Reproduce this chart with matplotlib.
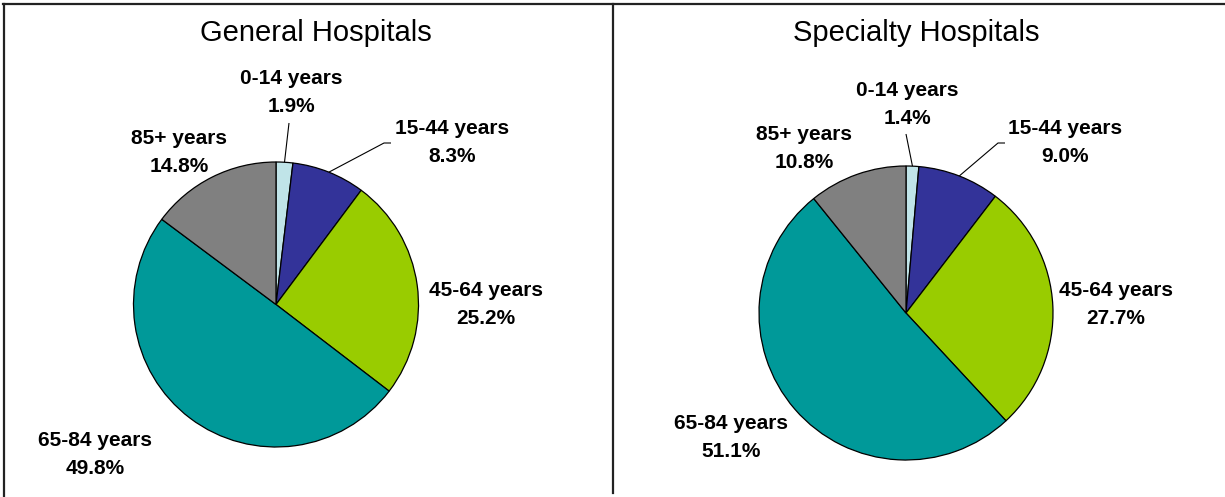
import matplotlib
matplotlib.use('Agg')
import matplotlib.pyplot as plt
from matplotlib.lines import Line2D
import numpy as np

# ---- data ----
categories = ['0-14 years', '15-44 years', '45-64 years', '65-84 years', '85+ years']
general_values = [1.9, 8.3, 25.2, 49.8, 14.8]
specialty_values = [1.4, 9.0, 27.7, 51.1, 10.8]
titles = ['General Hospitals', 'Specialty Hospitals']
colors = ['#C0E4E8', '#333399', '#99CC00', '#009999', '#808080']

W, H = 1225, 497
plt.rcParams['font.family'] = ['Liberation Sans', 'DejaVu Sans']
fig = plt.figure(figsize=(W / 100, H / 100), dpi=100)


def fx(px):
    return px / W


def fy(py):
    return 1 - py / H


def add_pie(cx, cy, r, values, title, title_xy, label_px, leaders):
    ax = fig.add_axes([fx(cx - r), fy(cy + r), 2 * r / W, 2 * r / H])
    ax.pie(values, colors=colors, startangle=90, counterclock=False, radius=1,
           wedgeprops=dict(edgecolor='black', linewidth=0.9))
    ax.set_xlim(-1, 1)
    ax.set_ylim(-1, 1)
    ax.axis('off')

    def d(px, py):
        return (px - cx) / r, (cy - py) / r

    total = sum(values)
    cum = 0.0
    mids = []
    for v in values:
        mids.append(np.deg2rad(90 - 360 * (cum + v / 2) / total))
        cum += v

    for cat, val, (lx, ly) in zip(categories, values, label_px):
        x, y = d(lx, ly)
        ax.text(x, y, f"{cat}\n{val:.1f}%", ha='center', va='center',
                fontsize=15, fontweight='bold', linespacing=1.6,
                clip_on=False, color='black')

    for idx, pts in leaders.items():
        a = mids[idx]
        xs = [np.cos(a)] + [d(px, py)[0] for px, py in pts]
        ys = [np.sin(a)] + [d(px, py)[1] for px, py in pts]
        ax.plot(xs, ys, color='black', lw=0.8, clip_on=False, solid_capstyle='butt')

    fig.text(fx(title_xy[0]), fy(title_xy[1]), title, ha='center', va='center',
             fontsize=21)


add_pie(276, 304.5, 142.5, general_values, titles[0], (316, 33),
        [(291, 93), (452, 143), (486, 304), (95, 454), (179, 153)],
        {0: [(289, 123)], 1: [(384, 143), (391, 143)]})

add_pie(906, 313, 147, specialty_values, titles[1], (916, 33),
        [(907, 105), (1065, 143), (1116, 304), (731, 438), (804, 148)],
        {0: [(906, 134)], 1: [(998, 143), (1005, 143)]})

# frame lines
lc = '#222222'
fig.add_artist(Line2D([fx(3), fx(1225)], [fy(4), fy(4)], color=lc, lw=1.6))
fig.add_artist(Line2D([fx(3.5), fx(3.5)], [fy(4), fy(497)], color=lc, lw=1.6))
fig.add_artist(Line2D([fx(613), fx(613)], [fy(4), fy(493)], color=lc, lw=1.6))

fig.savefig('out.png', dpi=100)
